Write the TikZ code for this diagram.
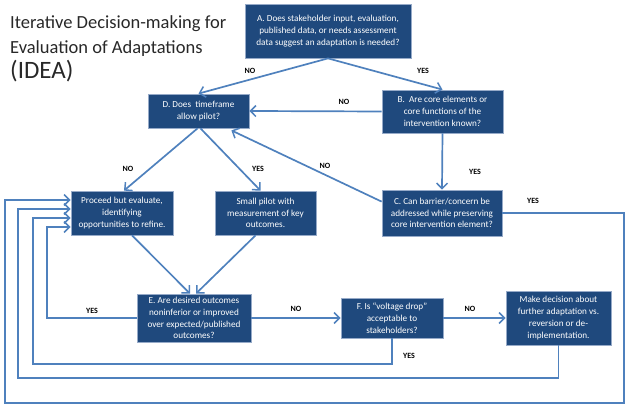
\documentclass[tikz,border=0pt]{standalone}
\usepackage{fontspec}
\setmainfont{Carlito}
\usetikzlibrary{arrows.meta}
\definecolor{boxfill}{RGB}{31,73,125}
\definecolor{boxedge}{RGB}{150,170,200}
\definecolor{lineblue}{RGB}{79,129,189}
\definecolor{titlegray}{RGB}{40,40,40}
\tikzset{
  qbox/.style={rectangle, fill=boxfill, draw=boxedge, line width=0.8pt, text=white,
    align=center, font=\fontsize{9.2}{11.8}\selectfont, inner sep=1pt},
  conn/.style={draw=lineblue, line width=1.7pt},
  arr/.style={conn, -{Straight Barb[length=5.5pt,width=11pt,line width=1.5pt]}},
  lbl/.style={font=\fontsize{8}{9}\selectfont\bfseries, text=black},
  ttl/.style={anchor=base west, font=\fontsize{18.5}{20}\selectfont, inner sep=0pt, text=titlegray}
}
\begin{document}
\begin{tikzpicture}[x=1pt,y=1pt]
\useasboundingbox (0,0) rectangle (625,406);
% title
\node[ttl] (t1) at (10,377) {Iterative Decision-making for};
\node[ttl] (t2) at (10,352) {Evaluation of Adaptations};
\node[ttl, font=\fontsize{25}{27}\selectfont] (t3) at (10,327) {(IDEA)};
% boxes
\node[qbox, minimum width=166pt, minimum height=54pt] (A) at (328,375)
  {A. Does stakeholder input, evaluation,\\ published data, or needs assessment\\ data suggest an adaptation is needed?};
\node[qbox, minimum width=121pt, minimum height=43pt] (B) at (442.5,294.5)
  {B.\ \ Are core elements or\\ core functions of the\\ intervention known?};
\node[qbox, minimum width=101pt, minimum height=34pt] (D) at (198.5,295)
  {D. Does\ \ timeframe\\ allow pilot?};
\node[qbox, minimum width=120pt, minimum height=46pt] (C) at (442,193)
  {C. Can barrier/concern be\\ addressed while preserving\\ core intervention element?};
\node[qbox, minimum width=102pt, minimum height=44pt] (P) at (122,193)
  {Proceed but evaluate,\\ identifying\\ opportunities to refine.};
\node[qbox, minimum width=101pt, minimum height=44pt] (S) at (265.5,193)
  {Small pilot with\\ measurement of key\\ outcomes.};
\node[qbox, minimum width=114pt, minimum height=48pt] (E) at (194,88)
  {E. Are desired outcomes\\ noninferior or improved\\ over expected/published\\ outcomes?};
\node[qbox, minimum width=102pt, minimum height=40pt] (F) at (392,88)
  {F. Is “voltage drop”\\ acceptable to\\ stakeholders?};
\node[qbox, minimum width=105pt, minimum height=54pt] (M) at (558.5,88)
  {Make decision about\\ further adaptation vs.\\ reversion or de-\\ implementation.};
% loop corners
\coordinate (c1) at (624,193);
\coordinate (c2) at (624,3);
\coordinate (c3) at (5,3);
\coordinate (m1) at (558.5,28);
\coordinate (m2) at (18,28);
\coordinate (f1) at (392,42);
\coordinate (f2) at (33,42);
\coordinate (e1) at (47,88);
% connectors
\draw[arr] (A.south) -- (D.north);
\draw[arr] (A.south) -- (B.north);
\draw[arr] (B.west) -- (D.east);
\draw[arr] (B.south) -- (C.north);
\draw[arr] ([xshift=-1pt]D.south) -- ([xshift=2pt]P.north);
\draw[arr] ([xshift=2pt]D.south) -- ([xshift=-5pt]S.north);
\draw[arr] ([yshift=-12pt]C.north west) -- ([xshift=-18pt,yshift=-2pt]D.south east);
\draw[arr] ([xshift=10pt]P.south) -- ([xshift=-4pt]E.north);
\draw[arr] ([xshift=-10pt]S.south) -- ([xshift=2pt]E.north);
\draw[arr] (E.east) -- (F.west);
\draw[arr] (F.east) -- (M.west);
\draw[arr] (C.east) -- (c1) -- (c2) -- (c3) |- ([yshift=13pt]P.west);
\draw[arr] (M.south) -- (m1) -- (m2) |- ([yshift=4pt]P.west);
\draw[arr] (F.south) -- (f1) -- (f2) |- ([yshift=-5pt]P.west);
\draw[arr] (E.west) -- (e1) |- ([yshift=-14pt]P.west);
% labels
\node[lbl] (l1) at (250,335) {NO};
\node[lbl] (l2) at (423,335) {YES};
\node[lbl] (l3) at (344,304) {NO};
\node[lbl] (l4) at (128,237) {NO};
\node[lbl] (l5) at (258,237) {YES};
\node[lbl] (l6) at (325,240) {NO};
\node[lbl] (l7) at (475,234) {YES};
\node[lbl] (l8) at (533,205) {YES};
\node[lbl] (l9) at (92,95) {YES};
\node[lbl] (l10) at (296,97) {NO};
\node[lbl] (l11) at (470,97) {NO};
\node[lbl] (l12) at (409,50) {YES};
\end{tikzpicture}
\end{document}
